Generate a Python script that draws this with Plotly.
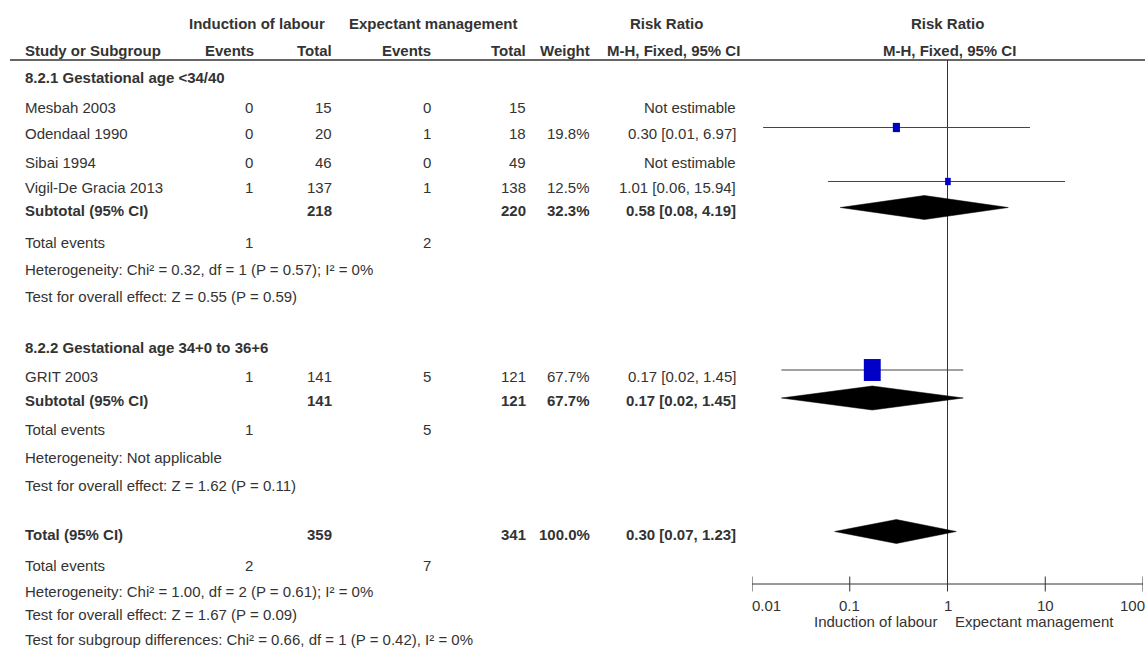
import math
import plotly.graph_objects as go

# ---------------- data ----------------
GROUP_TITLES = ["8.2.1 Gestational age <34/40", "8.2.2 Gestational age 34+0 to 36+6"]

G1_STUDIES = ["Mesbah 2003", "Odendaal 1990", "Sibai 1994", "Vigil-De Gracia 2013"]
G1_EV_IND = [0, 0, 0, 1]
G1_TOT_IND = [15, 20, 46, 137]
G1_EV_EXP = [0, 1, 0, 1]
G1_TOT_EXP = [15, 18, 49, 138]
G1_WEIGHT = [None, 19.8, None, 12.5]
G1_RR = [None, 0.30, None, 1.01]
G1_LO = [None, 0.013, None, 0.06]
G1_HI = [None, 6.97, None, 15.94]

G2_STUDIES = ["GRIT 2003"]
G2_EV_IND = [1]
G2_TOT_IND = [141]
G2_EV_EXP = [5]
G2_TOT_EXP = [121]
G2_WEIGHT = [67.7]
G2_RR = [0.17]
G2_LO = [0.02]
G2_HI = [1.45]

SUB_TOT_IND = [218, 141]
SUB_TOT_EXP = [220, 121]
SUB_WEIGHT = [32.3, 67.7]
SUB_RR = [0.58, 0.17]
SUB_LO = [0.08, 0.02]
SUB_HI = [4.19, 1.45]
SUB_EV_IND = [1, 1]
SUB_EV_EXP = [2, 5]
SUB_HET = ["Heterogeneity: Chi² = 0.32, df = 1 (P = 0.57); I² = 0%",
           "Heterogeneity: Not applicable"]
SUB_TEST = ["Test for overall effect: Z = 0.55 (P = 0.59)",
            "Test for overall effect: Z = 1.62 (P = 0.11)"]

TOTAL_TOT_IND = 359
TOTAL_TOT_EXP = 341
TOTAL_WEIGHT = 100.0
TOTAL_RR = 0.30
TOTAL_LO = 0.07
TOTAL_HI = 1.23
TOTAL_EV_IND = 2
TOTAL_EV_EXP = 7
TOTAL_HET = "Heterogeneity: Chi² = 1.00, df = 2 (P = 0.61); I² = 0%"
TOTAL_TEST = "Test for overall effect: Z = 1.67 (P = 0.09)"
SUBGROUP_TEST = "Test for subgroup differences: Chi² = 0.66, df = 1 (P = 0.42), I² = 0%"

TICKS = [0.01, 0.1, 1, 10, 100]
TICK_LABELS = ["0.01", "0.1", "1", "10", "100"]
FAVOURS = ["Induction of labour", "Expectant management"]

# ---------------- layout constants ----------------
W, H = 1145, 653
FONT = "Liberation Sans, Arial, sans-serif"
FS = 15
TXT = "#333333"
X_NAME = 23
X_EV_IND, X_TOT_IND = 255, 334
X_EV_EXP, X_TOT_EXP = 433, 528
X_WEIGHT = 592
X_RR = 738
PLOT_L, PLOT_R = 752, 1143
PX_DEC = (PLOT_R - PLOT_L) / 4.0
AXIS_Y = 584
RULE_Y = 60

G1_ROWS = [107, 133.5, 162, 187.5]
G2_ROWS = [376]
GROUP_HDR_ROWS = [77.5, 347]
SUB_ROWS = [210, 400.5]
SUB_EVENT_ROWS = [242.5, 429.5]
SUB_HET_ROWS = [269, 457]
SUB_TEST_ROWS = [296, 485]
TOTAL_ROW = 534
TOTAL_INFO_ROWS = [565.5, 591, 614.5, 639]
STUDY_MARK_OFF = -6
DIAMOND_OFF = -2.5
DIAMOND_HALF_H = 12

fig = go.Figure()
ann = []


def text(x, y, s, anchor="left", bold=False, xref="x"):
    ann.append(dict(x=x, y=y, xref=xref, yref="y", text=("<b>%s</b>" % s) if bold else s,
                    showarrow=False, xanchor=anchor, yanchor="middle",
                    font=dict(family=FONT, size=FS, color=TXT)))


def rr_text(rr, lo, hi):
    return "%.2f [%.2f, %.2f]" % (rr, lo, hi)


# header
text(256.5, 23, "Induction of labour", "center", True)
text(432.5, 23, "Expectant management", "center", True)
text(666.5, 23, "Risk Ratio", "center", True)
text(947.5, 23, "Risk Ratio", "center", True)
text(X_NAME, 50, "Study or Subgroup", "left", True)
text(X_EV_IND + 1, 50, "Events", "right", True)
text(X_TOT_IND, 50, "Total", "right", True)
text(X_EV_EXP, 50, "Events", "right", True)
text(X_TOT_EXP, 50, "Total", "right", True)
text(X_WEIGHT, 50, "Weight", "right", True)
text(X_RR + 4, 50, "M-H, Fixed, 95% CI", "right", True)
text(949, 50, "M-H, Fixed, 95% CI", "center", True)


def add_ci(lo, hi, y):
    fig.add_trace(go.Scatter(x=[lo, hi], y=[y, y], xaxis="x2", yaxis="y", mode="lines",
                             line=dict(color="#444444", width=1.2), hoverinfo="skip",
                             showlegend=False))


def add_square(rr, w, y):
    h = 4 + 0.265 * w
    wd = 0.77 * h
    dl = (wd / 2) / PX_DEC
    c = math.log10(rr)
    xs = [10 ** (c - dl), 10 ** (c + dl), 10 ** (c + dl), 10 ** (c - dl), 10 ** (c - dl)]
    ys = [y - h / 2, y - h / 2, y + h / 2, y + h / 2, y - h / 2]
    fig.add_trace(go.Scatter(x=xs, y=ys, xaxis="x2", yaxis="y", mode="lines", fill="toself",
                             fillcolor="#0000C8", line=dict(width=0, color="#0000C8"),
                             hoverinfo="skip", showlegend=False))


def add_diamond(rr, lo, hi, y):
    fig.add_trace(go.Scatter(x=[lo, rr, hi, rr, lo],
                             y=[y, y - DIAMOND_HALF_H, y, y + DIAMOND_HALF_H, y],
                             xaxis="x2", yaxis="y", mode="lines", fill="toself",
                             fillcolor="black", line=dict(width=0.5, color="black"),
                             hoverinfo="skip", showlegend=False))


# null line
fig.add_trace(go.Scatter(x=[1, 1], y=[RULE_Y, AXIS_Y], xaxis="x2", yaxis="y", mode="lines",
                         line=dict(color="#333333", width=1), hoverinfo="skip", showlegend=False))

groups = [
    (G1_STUDIES, G1_EV_IND, G1_TOT_IND, G1_EV_EXP, G1_TOT_EXP, G1_WEIGHT, G1_RR, G1_LO, G1_HI, G1_ROWS),
    (G2_STUDIES, G2_EV_IND, G2_TOT_IND, G2_EV_EXP, G2_TOT_EXP, G2_WEIGHT, G2_RR, G2_LO, G2_HI, G2_ROWS),
]

squares = []
for gi, (names, ei, ti, ee, te, wt, rr, lo, hi, rows) in enumerate(groups):
    text(X_NAME, GROUP_HDR_ROWS[gi], GROUP_TITLES[gi], "left", True)
    for k, name in enumerate(names):
        y = rows[k]
        text(X_NAME, y, name)
        text(X_EV_IND, y, str(ei[k]), "right")
        text(X_TOT_IND, y, str(ti[k]), "right")
        text(X_EV_EXP, y, str(ee[k]), "right")
        text(X_TOT_EXP, y, str(te[k]), "right")
        if rr[k] is None:
            text(X_RR, y, "Not estimable", "right")
        else:
            text(X_WEIGHT, y, "%.1f%%" % wt[k], "right")
            text(X_RR, y, rr_text(rr[k], lo[k], hi[k]), "right")
            add_ci(lo[k], hi[k], y + STUDY_MARK_OFF)
            squares.append((rr[k], wt[k], y + STUDY_MARK_OFF))
    ys = SUB_ROWS[gi]
    text(X_NAME, ys, "Subtotal (95% CI)", "left", True)
    text(X_TOT_IND, ys, str(SUB_TOT_IND[gi]), "right", True)
    text(X_TOT_EXP, ys, str(SUB_TOT_EXP[gi]), "right", True)
    text(X_WEIGHT, ys, "%.1f%%" % SUB_WEIGHT[gi], "right", True)
    text(X_RR, ys, rr_text(SUB_RR[gi], SUB_LO[gi], SUB_HI[gi]), "right", True)
    add_diamond(SUB_RR[gi], SUB_LO[gi], SUB_HI[gi], ys + DIAMOND_OFF)
    text(X_NAME, SUB_EVENT_ROWS[gi], "Total events")
    text(X_EV_IND, SUB_EVENT_ROWS[gi], str(SUB_EV_IND[gi]), "right")
    text(X_EV_EXP, SUB_EVENT_ROWS[gi], str(SUB_EV_EXP[gi]), "right")
    text(X_NAME, SUB_HET_ROWS[gi], SUB_HET[gi])
    text(X_NAME, SUB_TEST_ROWS[gi], SUB_TEST[gi])

for rr, w, y in squares:
    add_square(rr, w, y)

# overall
text(X_NAME, TOTAL_ROW, "Total (95% CI)", "left", True)
text(X_TOT_IND, TOTAL_ROW, str(TOTAL_TOT_IND), "right", True)
text(X_TOT_EXP, TOTAL_ROW, str(TOTAL_TOT_EXP), "right", True)
text(X_WEIGHT, TOTAL_ROW, "%.1f%%" % TOTAL_WEIGHT, "right", True)
text(X_RR, TOTAL_ROW, rr_text(TOTAL_RR, TOTAL_LO, TOTAL_HI), "right", True)
add_diamond(TOTAL_RR, TOTAL_LO, TOTAL_HI, TOTAL_ROW + DIAMOND_OFF)
text(X_NAME, TOTAL_INFO_ROWS[0], "Total events")
text(X_EV_IND, TOTAL_INFO_ROWS[0], str(TOTAL_EV_IND), "right")
text(X_EV_EXP, TOTAL_INFO_ROWS[0], str(TOTAL_EV_EXP), "right")
text(X_NAME, TOTAL_INFO_ROWS[1], TOTAL_HET)
text(X_NAME, TOTAL_INFO_ROWS[2], TOTAL_TEST)
text(X_NAME, TOTAL_INFO_ROWS[3], SUBGROUP_TEST)

# axis line and ticks (on log scale)
fig.add_trace(go.Scatter(x=[TICKS[0], TICKS[-1]], y=[AXIS_Y, AXIS_Y], xaxis="x2", yaxis="y",
                         mode="lines", line=dict(color="#333333", width=1),
                         hoverinfo="skip", showlegend=False))
tx, ty = [], []
for t in TICKS:
    tx += [t, t, None]
    ty += [AXIS_Y - 7.5, AXIS_Y + 7.5, None]
fig.add_trace(go.Scatter(x=tx, y=ty, xaxis="x2", yaxis="y", mode="lines",
                         line=dict(color="#333333", width=1), hoverinfo="skip", showlegend=False))
for i, (t, lab) in enumerate(zip(TICKS, TICK_LABELS)):
    if i == 0:
        anc, sh = "left", -2
    elif i == len(TICKS) - 1:
        anc, sh = "right", 4
    else:
        anc, sh = "center", 0
    ann.append(dict(x=math.log10(t), y=605, xref="x2", yref="y", text=lab, showarrow=False,
                    xanchor=anc, xshift=sh, yanchor="middle",
                    font=dict(family=FONT, size=FS, color=TXT)))
ann.append(dict(x=0, y=621, xref="x2", yref="y", text=FAVOURS[0], showarrow=False, xshift=-9,
                xanchor="right", yanchor="middle", font=dict(family=FONT, size=FS, color=TXT)))
ann.append(dict(x=0, y=621, xref="x2", yref="y", text=FAVOURS[1], showarrow=False, xshift=5,
                xanchor="left", yanchor="middle", font=dict(family=FONT, size=FS, color=TXT)))

# empty trace to establish the pixel subplot
fig.add_trace(go.Scatter(x=[0], y=[0], xaxis="x", yaxis="y", mode="markers",
                         marker=dict(opacity=0), hoverinfo="skip", showlegend=False))

fig.update_layout(
    width=W, height=H, margin=dict(l=0, r=0, t=0, b=0),
    paper_bgcolor="white", plot_bgcolor="rgba(0,0,0,0)",
    xaxis=dict(range=[0, W], domain=[0, 1], visible=False, fixedrange=True),
    yaxis=dict(range=[H, 0], domain=[0, 1], visible=False, fixedrange=True),
    xaxis2=dict(type="log", range=[-2, 2], domain=[PLOT_L / W, PLOT_R / W], anchor="y",
                visible=False, fixedrange=True),
    annotations=ann,
    shapes=[dict(type="line", xref="x", yref="y", x0=10, x1=W, y0=RULE_Y, y1=RULE_Y,
                 line=dict(color="#333333", width=1.5))],
    showlegend=False,
)

fig.write_html("out.html")
